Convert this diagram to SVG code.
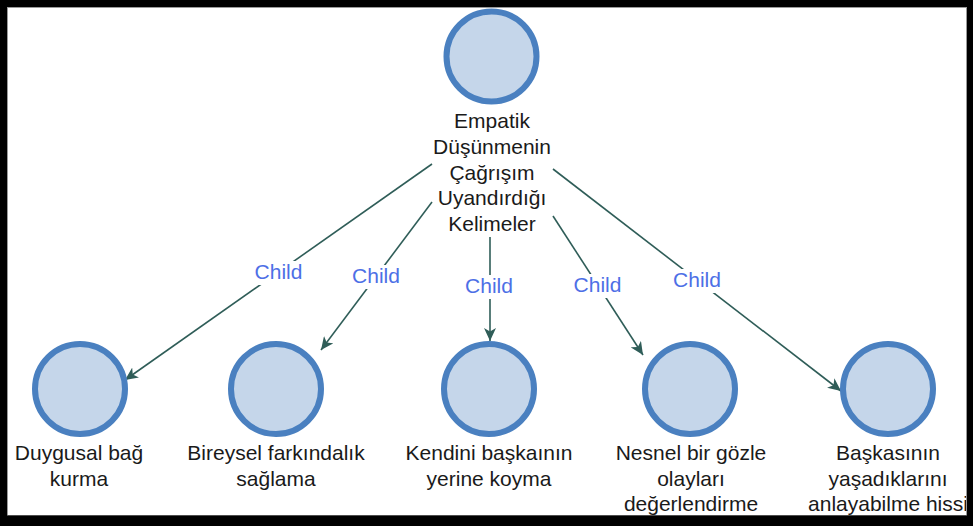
<svg xmlns="http://www.w3.org/2000/svg" width="973" height="526" viewBox="0 0 973 526">
<defs>
<style>
.node circle{fill:#c5d6ea;stroke:#4a80c0;stroke-width:6}
.lbl{font-family:"Liberation Sans",Arial,sans-serif;font-size:21px;fill:#1a1a1a;text-anchor:middle}
.edge{stroke:#2f5d58;stroke-width:1.6;fill:none;marker-end:url(#arr)}
.elbl{font-family:"Liberation Sans",Arial,sans-serif;font-size:21px;fill:#4d6fe6;text-anchor:middle}
.ebg{fill:#ffffff}
</style>
<marker id="arr" markerUnits="userSpaceOnUse" markerWidth="14" markerHeight="12" viewBox="0 0 14 12" refX="13" refY="6" orient="auto">
<path d="M0,0 L13,6 L0,12 L3.5,6 z" fill="#2f5d58"/>
</marker>
</defs>
<rect x="0" y="0" width="973" height="526" fill="#ffffff"/>
<g id="connectors">
<line class="edge" x1="432" y1="164" x2="125" y2="380"/>
<line class="edge" x1="432" y1="202" x2="321" y2="350"/>
<line class="edge" x1="490" y1="237" x2="490" y2="341"/>
<line class="edge" x1="553" y1="216" x2="643" y2="355"/>
<line class="edge" x1="553" y1="169" x2="841" y2="391"/>
<rect class="ebg" x="252" y="261" width="53" height="24"/>
<text class="elbl" x="278.5" y="279">Child</text>
<rect class="ebg" x="350" y="265" width="53" height="24"/>
<text class="elbl" x="376" y="283">Child</text>
<rect class="ebg" x="463" y="275" width="53" height="24"/>
<text class="elbl" x="489" y="293">Child</text>
<rect class="ebg" x="571" y="274" width="53" height="24"/>
<text class="elbl" x="597.5" y="292">Child</text>
<rect class="ebg" x="670" y="269" width="53" height="24"/>
<text class="elbl" x="697" y="287">Child</text>
</g>
<g id="root" class="node">
<circle cx="491.5" cy="56.5" r="45"/>
<text class="lbl"><tspan x="492" y="128">Empatik</tspan><tspan x="492" y="154">Düşünmenin</tspan><tspan x="492" y="179.5">Çağrışım</tspan><tspan x="492" y="205">Uyandırdığı</tspan><tspan x="492" y="230.5">Kelimeler</tspan></text>
</g>
<g id="n1" class="node">
<circle cx="80" cy="389" r="45"/>
<text class="lbl"><tspan x="79" y="460">Duygusal bağ</tspan><tspan x="79" y="485.5">kurma</tspan></text>
</g>
<g id="n2" class="node">
<circle cx="276" cy="389" r="45"/>
<text class="lbl"><tspan x="276" y="460">Bireysel farkındalık</tspan><tspan x="276" y="485.5">sağlama</tspan></text>
</g>
<g id="n3" class="node">
<circle cx="489" cy="389" r="45"/>
<text class="lbl"><tspan x="489" y="460">Kendini başkaının</tspan><tspan x="489" y="485.5">yerine koyma</tspan></text>
</g>
<g id="n4" class="node">
<circle cx="690" cy="389" r="45"/>
<text class="lbl"><tspan x="691" y="460">Nesnel bir gözle</tspan><tspan x="691" y="485.5">olayları</tspan><tspan x="691" y="511">değerlendirme</tspan></text>
</g>
<g id="n5" class="node">
<circle cx="888" cy="389" r="45"/>
<text class="lbl"><tspan x="888" y="460">Başkasının</tspan><tspan x="888" y="485.5">yaşadıklarını</tspan><tspan x="888" y="511">anlayabilme hissi</tspan></text>
</g>
<rect x="7.5" y="7.5" width="959" height="508" fill="none" stroke="#9a9a9a" stroke-width="1"/>
<path d="M0,0 H973 V526 H0 Z M7,7 V515.5 H967 V7 Z" fill="#000000" fill-rule="evenodd"/>
</svg>
